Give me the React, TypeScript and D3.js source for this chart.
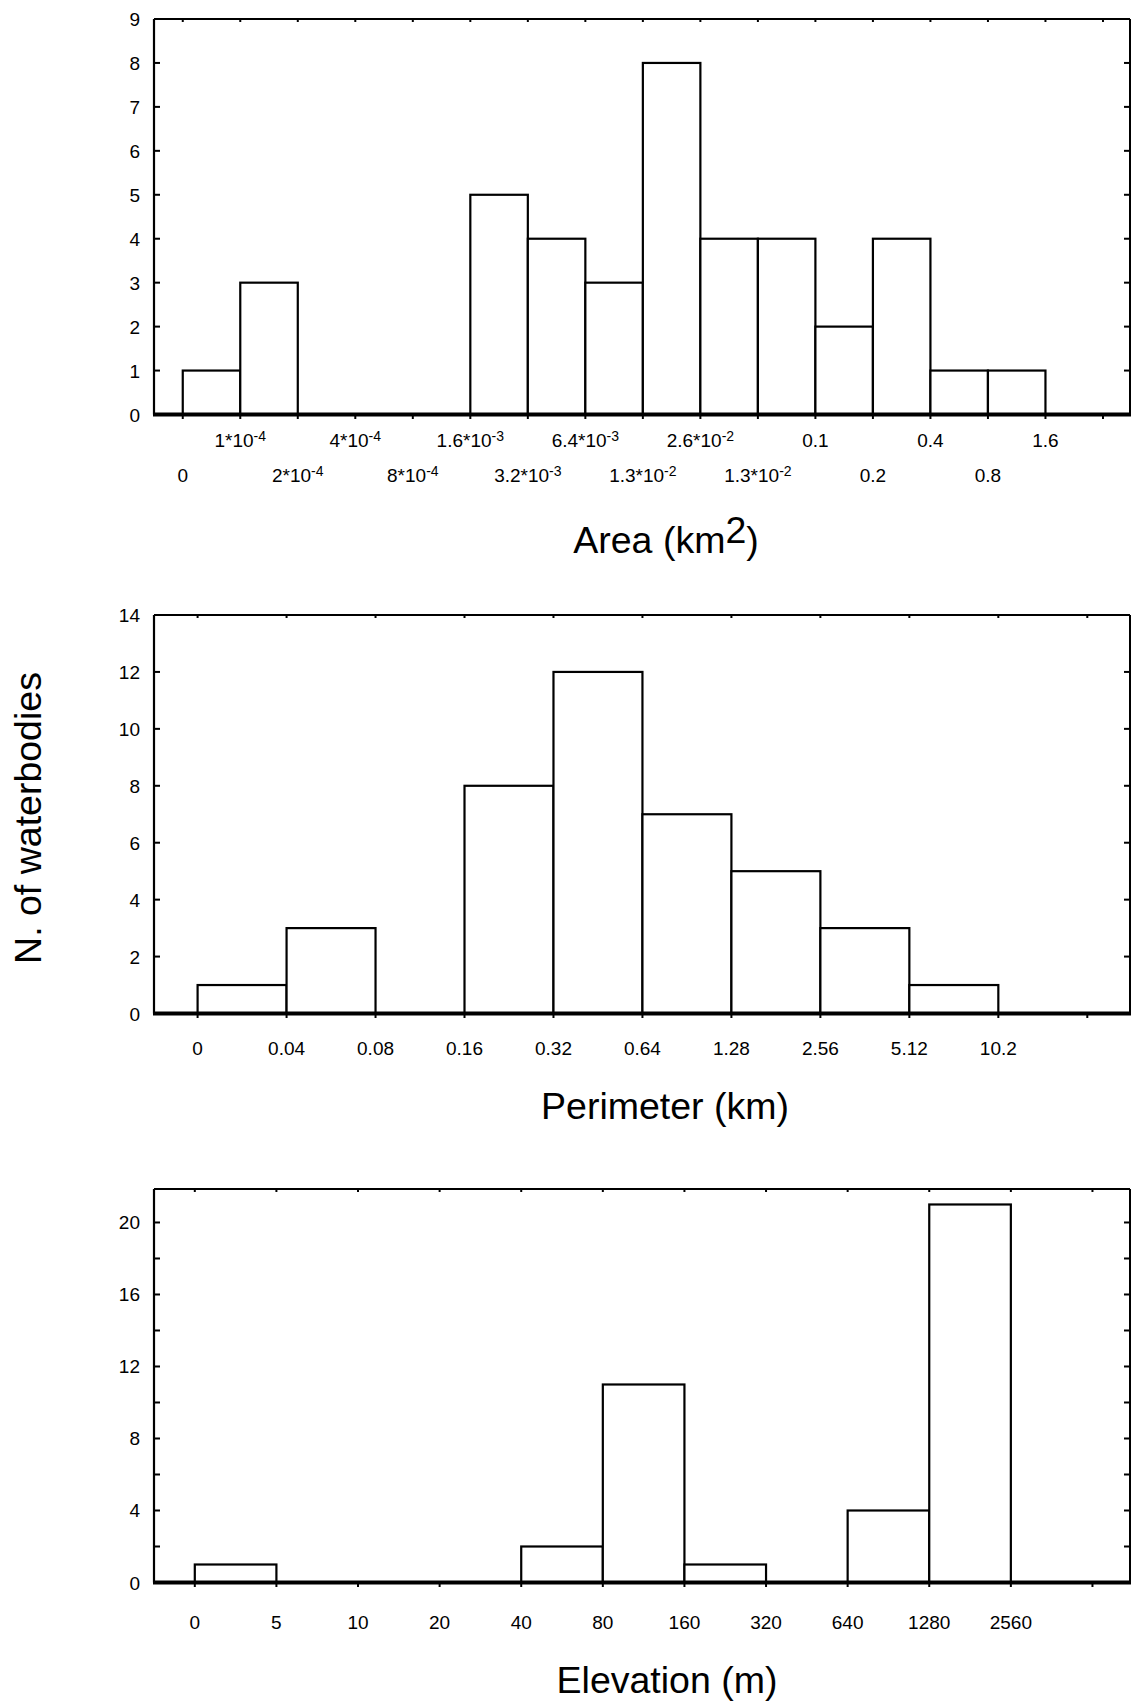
import React from "react";
import * as d3 from "d3";

// Area histogram (counts per class, 16 classes on a doubling scale)
const areaCounts = [1, 3, 0, 0, 0, 5, 4, 3, 8, 4, 4, 2, 4, 1, 1, 0];
const areaTickLabels = [
  "0", "1*10^-4", "2*10^-4", "4*10^-4", "8*10^-4", "1.6*10^-3", "3.2*10^-3",
  "6.4*10^-3", "1.3*10^-2", "2.6*10^-2", "1.3*10^-2", "0.1", "0.2", "0.4", "0.8", "1.6",
];
const areaYTicks = [0, 1, 2, 3, 4, 5, 6, 7, 8, 9];

// Perimeter histogram
const perimeterCounts = [1, 3, 0, 8, 12, 7, 5, 3, 1, 0];
const perimeterTickLabels = ["0", "0.04", "0.08", "0.16", "0.32", "0.64", "1.28", "2.56", "5.12", "10.2"];
const perimeterYTicks = [0, 2, 4, 6, 8, 10, 12, 14];

// Elevation histogram
const elevationCounts = [1, 0, 0, 0, 2, 11, 1, 0, 4, 21, 0];
const elevationTickLabels = ["0", "5", "10", "20", "40", "80", "160", "320", "640", "1280", "2560"];
const elevationYTicks = [0, 4, 8, 12, 16, 20];
const elevationYMinor = [2, 6, 10, 14, 18];

const FONT = "'Liberation Sans', Arial, Helvetica, sans-serif";
const LEFT = 154;
const RIGHT = 1130;

function TickLabel({ x, y, label }) {
  const [base, exp] = label.split("^");
  return (
    <text x={x} y={y} textAnchor="middle" fontSize={19} fontFamily={FONT} fill="#000">
      <tspan>{base}</tspan>
      {exp && (
        <tspan fontSize={14} dy={-6}>
          {exp}
        </tspan>
      )}
    </text>
  );
}

function Histogram({
  counts,
  tickLabels,
  nTicks,
  xDomain,
  yMax,
  yTicks,
  yMinor = [],
  top,
  zero,
  labelRows,
}) {
  const x = d3.scaleLinear().domain(xDomain).range([LEFT, RIGHT]);
  const y = d3.scaleLinear().domain([0, yMax]).range([zero, top]);
  const ticks = d3.range(nTicks);

  return (
    <g>
      {/* bars */}
      <g fill="#fff" stroke="#000" strokeWidth={2.2}>
        {counts.map((c, i) =>
          c > 0 ? (
            <rect key={i} x={x(i)} y={y(c)} width={x(i + 1) - x(i)} height={zero - y(c)} />
          ) : null
        )}
      </g>

      {/* frame */}
      <g stroke="#000" fill="none">
        <line x1={LEFT} x2={RIGHT} y1={top} y2={top} strokeWidth={2} />
        <line x1={LEFT} x2={LEFT} y1={top} y2={zero} strokeWidth={2.2} />
        <line x1={RIGHT} x2={RIGHT} y1={top} y2={zero} strokeWidth={2} />
        <line x1={LEFT - 1} x2={RIGHT + 1} y1={zero} y2={zero} strokeWidth={4} />
      </g>

      {/* x ticks: top inward, bottom outward */}
      <g stroke="#000" strokeWidth={2}>
        {ticks.map((t) => (
          <g key={t}>
            <line x1={x(t)} x2={x(t)} y1={top} y2={top + 3} />
            <line x1={x(t)} x2={x(t)} y1={zero} y2={zero + 4.5} />
          </g>
        ))}
      </g>

      {/* y ticks on both sides, inward */}
      <g stroke="#000" strokeWidth={2}>
        {[...yTicks, ...yMinor].map((v) => (
          <g key={v}>
            <line x1={LEFT} x2={LEFT + 6} y1={y(v)} y2={y(v)} />
            <line x1={RIGHT - 6} x2={RIGHT} y1={y(v)} y2={y(v)} />
          </g>
        ))}
      </g>

      {/* y labels */}
      {yTicks.map((v) => (
        <text
          key={v}
          x={140}
          y={y(v) + 7}
          textAnchor="end"
          fontSize={19}
          fontFamily={FONT}
          fill="#000"
        >
          {v}
        </text>
      ))}

      {/* x labels, alternating rows when two baselines are given */}
      {tickLabels.map((lab, i) => (
        <TickLabel
          key={i}
          x={x(i)}
          y={labelRows.length > 1 ? labelRows[i % 2 === 1 ? 0 : 1] : labelRows[0]}
          label={lab}
        />
      ))}
    </g>
  );
}

export default function App() {
  const width = 1132;
  const height = 1702;

  return (
    <svg
      width={width}
      height={height}
      style={{ position: "absolute", left: 0, top: 0, background: "#fff" }}
    >
      <rect width={width} height={height} fill="#fff" />

      <Histogram
        counts={areaCounts}
        tickLabels={areaTickLabels}
        nTicks={17}
        xDomain={[-0.5, 16.47]}
        yMax={9}
        yTicks={areaYTicks}
        top={19}
        zero={414.5}
        labelRows={[447, 482]}
      />
      <text x={666} y={553} textAnchor="middle" fontSize={37.5} fontFamily={FONT}>
        Area (km<tspan dy={-10}>2</tspan>
        <tspan dy={10}>)</tspan>
      </text>

      <Histogram
        counts={perimeterCounts}
        tickLabels={perimeterTickLabels}
        nTicks={11}
        xDomain={[-0.49, 10.48]}
        yMax={14}
        yTicks={perimeterYTicks}
        top={615}
        zero={1013.5}
        labelRows={[1055]}
      />
      <text x={665} y={1119} textAnchor="middle" fontSize={37.5} fontFamily={FONT}>
        Perimeter (km)
      </text>

      <Histogram
        counts={elevationCounts}
        tickLabels={elevationTickLabels}
        nTicks={12}
        xDomain={[-0.5, 11.46]}
        yMax={21.86}
        yTicks={elevationYTicks}
        yMinor={elevationYMinor}
        top={1189}
        zero={1582.5}
        labelRows={[1628.5]}
      />
      <text x={667} y={1693} textAnchor="middle" fontSize={37.5} fontFamily={FONT}>
        Elevation (m)
      </text>

      {/* shared y title */}
      <text
        transform="translate(41, 818) rotate(-90)"
        textAnchor="middle"
        fontSize={37.5}
        fontFamily={FONT}
      >
        N. of waterbodies
      </text>
    </svg>
  );
}
